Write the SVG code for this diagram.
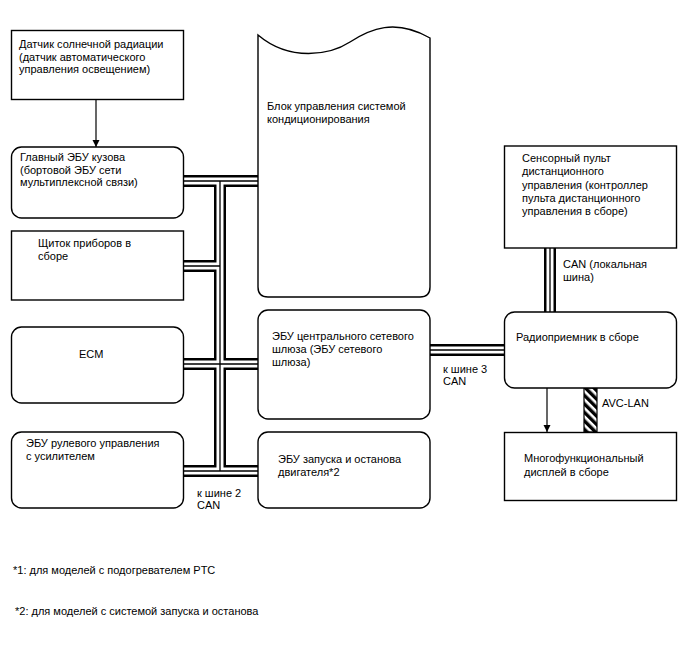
<svg xmlns="http://www.w3.org/2000/svg" width="688" height="658" viewBox="0 0 688 658">
<style>
.box{fill:#fff;stroke:#000;stroke-width:1.4}
text{font-family:"Liberation Sans",Arial,sans-serif;font-size:11px;fill:#000}
.b1{fill:none;stroke:#000;stroke-width:12}
.b2{fill:none;stroke:#fff;stroke-width:7}
.b3{fill:none;stroke:#000;stroke-width:1.3}
.ln{fill:none;stroke:#000;stroke-width:1.2}
</style>
<defs>
<marker id="arr" viewBox="0 0 10 10" refX="10" refY="5" markerWidth="7" markerHeight="10" markerUnits="userSpaceOnUse" orient="auto">
<path d="M0,0 L10,5 L0,10 Z" fill="#000"/>
</marker>
<pattern id="hatch" width="6" height="6" patternUnits="userSpaceOnUse" patternTransform="rotate(45)">
<rect width="6" height="6" fill="#000"/>
<rect width="6" height="2.6" fill="#fff"/>
</pattern>
</defs>
<rect width="688" height="658" fill="#fff"/>

<g id="connectors">
<g class="b1-layer">
<path class="b1" d="M183,181 H258 M220,181 V471 M183,266 H220 M183,364 H258 M183,471 H258 M430,350 H504 M550,248 V312"/>
<path class="b2" d="M183,181 H258 M220,181 V471 M183,266 H220 M183,364 H258 M183,471 H258 M430,350 H504 M550,248 V312"/>
<path class="b3" d="M183,181 H258 M220,181 V471 M183,266 H220 M183,364 H258 M183,471 H258 M430,350 H504 M550,248 V312"/>
</g>
<line class="ln" x1="96" y1="99" x2="96" y2="147" marker-end="url(#arr)"/>
<line class="ln" x1="547" y1="388" x2="547" y2="432" marker-end="url(#arr)"/>
<rect x="584" y="388" width="13" height="44" fill="url(#hatch)" stroke="#000" stroke-width="1.2"/>
<text x="197" y="497">к шине 2</text>
<text x="197" y="509">CAN</text>
<text x="443" y="373">к шине 3</text>
<text x="443" y="385">CAN</text>
<text x="563" y="268">CAN (локальная</text>
<text x="563" y="281">шина)</text>
<text x="602" y="407">AVC-LAN</text>
</g>

<g id="sensor">
<rect class="box" x="11.5" y="30.5" width="172" height="69"/>
<text x="19" y="48">Датчик солнечной радиации</text>
<text x="19" y="60.5">(датчик автоматического</text>
<text x="19" y="73">управления освещением)</text>
</g>

<g id="body-ecu">
<rect class="box" x="11.5" y="147" width="172" height="71" rx="10"/>
<text x="20" y="161">Главный ЭБУ кузова</text>
<text x="20" y="173.5">(бортовой ЭБУ сети</text>
<text x="20" y="186">мультиплексной связи)</text>
</g>

<g id="meter">
<rect class="box" x="11.5" y="231" width="172" height="69"/>
<text x="38" y="247">Щиток приборов в</text>
<text x="38" y="260">сборе</text>
</g>

<g id="ecm">
<rect class="box" x="11.5" y="327" width="172" height="76" rx="10"/>
<text x="79" y="358">ECM</text>
</g>

<g id="eps-ecu">
<rect class="box" x="11.5" y="432" width="172" height="76" rx="10"/>
<text x="26" y="447">ЭБУ рулевого управления</text>
<text x="26" y="459.5">с усилителем</text>
</g>

<g id="ac-ecu">
<path class="box" d="M258,35 C290,62 330,55 350,42 C370,29 395,18 430,38 V287 Q430,297 420,297 H268 Q258,297 258,287 Z"/>
<text x="267" y="110">Блок управления системой</text>
<text x="267" y="123">кондиционирования</text>
</g>

<g id="gateway">
<rect class="box" x="258" y="310" width="172" height="109" rx="10"/>
<text x="272" y="340">ЭБУ центрального сетевого</text>
<text x="272" y="353">шлюза (ЭБУ сетевого</text>
<text x="272" y="366">шлюза)</text>
</g>

<g id="stop-start">
<rect class="box" x="258" y="432" width="172" height="76" rx="10"/>
<text x="278" y="463">ЭБУ запуска и останова</text>
<text x="278" y="476">двигателя*2</text>
</g>

<g id="touch-pad">
<rect class="box" x="504.5" y="146" width="172" height="102"/>
<text x="522" y="162">Сенсорный пульт</text>
<text x="522" y="175.3">дистанционного</text>
<text x="522" y="188.6">управления (контроллер</text>
<text x="522" y="202">пульта дистанционного</text>
<text x="522" y="215">управления в сборе)</text>
</g>

<g id="radio">
<rect class="box" x="504.5" y="312" width="172" height="76" rx="10"/>
<text x="516" y="341">Радиоприемник в сборе</text>
</g>

<g id="display">
<rect class="box" x="504.5" y="432.5" width="172" height="68"/>
<text x="524" y="462">Многофункциональный</text>
<text x="524" y="476">дисплей в сборе</text>
</g>

<g id="notes">
<text x="13" y="574">*1: для моделей с подогревателем PTC</text>
<text x="15" y="615">*2: для моделей с системой запуска и останова</text>
</g>
</svg>
